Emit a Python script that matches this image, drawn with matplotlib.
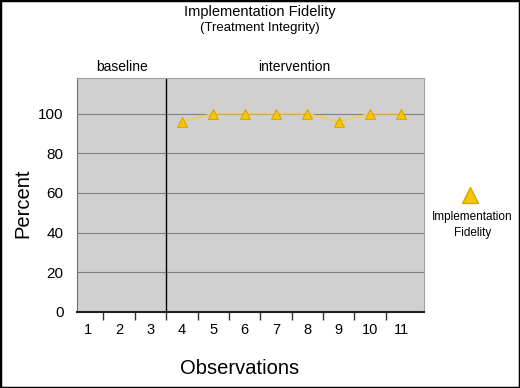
import matplotlib.pyplot as plt
from matplotlib.patches import Rectangle

plt.rcParams['font.family'] = ['Liberation Sans', 'DejaVu Sans']

# Datos
sesiones = [4, 5, 6, 7, 8, 9, 10, 11]
fidelidad = [96, 100, 100, 100, 100, 96, 100, 100]
etiquetas_x = [str(i) for i in range(1, 12)]
y_ticks = [0, 20, 40, 60, 80, 100]
cambio_fase = 3.5

fig = plt.figure(figsize=(5.2, 3.88), dpi=100)
fig.patch.set_facecolor('white')
fig.patches.append(Rectangle((0, 0), 1, 1, transform=fig.transFigure,
                             fill=False, edgecolor='black', linewidth=2.5))

ax = fig.add_axes([0.149, 0.196, 0.666, 0.603])
ax.set_facecolor('#d0d0d0')

ax.plot(sesiones, fidelidad, color='#f0cc5a', linewidth=1.3, zorder=3)
ax.plot(sesiones, fidelidad, linestyle='none', marker='^', markersize=7,
        color='#f7c600', markeredgecolor='#d8a800', markeredgewidth=0.8, zorder=4)

ax.axvline(cambio_fase, color='black', linewidth=1, zorder=2)

ax.set_xlim(0.67, 11.72)
ax.set_ylim(0, 118)
ax.set_yticks(y_ticks)
ax.set_yticklabels([str(v) for v in y_ticks], fontsize=11)
ax.tick_params(axis='y', length=0, pad=10)
ax.yaxis.grid(True, color='#808080', linewidth=0.8)
ax.set_axisbelow(True)

ax.set_xticks(range(1, 12))
ax.set_xticklabels(etiquetas_x, fontsize=10.5)
ax.tick_params(axis='x', which='major', length=0, pad=8)
ax.set_xticks([k + 0.5 for k in range(1, 11)], minor=True)
ax.tick_params(axis='x', which='minor', length=6, width=1, color='#333333')

for lado in ['top', 'right']:
    ax.spines[lado].set_color('#a0a0a0')
    ax.spines[lado].set_linewidth(0.8)
ax.spines['left'].set_color('#707070')
ax.spines['bottom'].set_color('#202020')
ax.spines['bottom'].set_linewidth(1.5)

# Etiquetas de ejes
fig.text(0.044, 0.477, 'Percent', rotation=90, ha='center', va='center', fontsize=14.5)
fig.text(0.4615, 0.0515, 'Observations', ha='center', va='center', fontsize=14.5)

# Títulos
fig.text(0.5, 0.969, 'Implementation Fidelity', ha='center', va='center', fontsize=10.5)
fig.text(0.5, 0.928, '(Treatment Integrity)', ha='center', va='center', fontsize=9.5)

# Etiquetas de fase
ax.text(2.08, 1.045, 'baseline', transform=ax.get_xaxis_transform(),
        ha='center', va='center', fontsize=10)
ax.text(7.6, 1.045, 'intervention', transform=ax.get_xaxis_transform(),
        ha='center', va='center', fontsize=10)

# Leyenda manual
fig.lines.append(plt.Line2D([0.904], [0.497], transform=fig.transFigure,
                            marker='^', markersize=12, color='#f7c600',
                            markeredgecolor='#d8a800', linestyle='none'))
fig.text(0.908, 0.420, 'Implementation\nFidelity', ha='center', va='center',
         fontsize=8.5, linespacing=1.35)

plt.savefig('out.png', dpi=100)
